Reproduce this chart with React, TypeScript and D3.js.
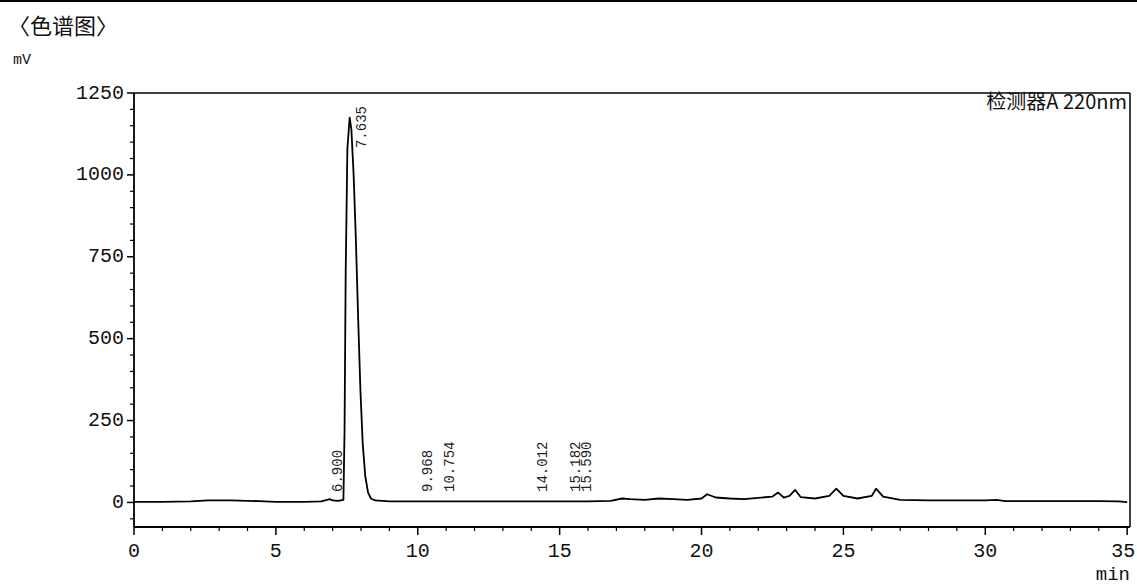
import React from "react";
import * as d3 from "d3";

// chromatogram trace (min, mV)
const chromTime = [0, 1, 2, 2.6, 3.4, 4.4, 5, 6, 6.6, 6.8, 6.9, 7.0, 7.2, 7.38, 7.42, 7.46, 7.52, 7.6, 7.66, 7.74, 7.82, 7.9, 7.98, 8.06, 8.15, 8.25, 8.35, 8.5, 9, 10, 11, 12, 13, 14, 15, 16, 16.8, 17.2, 17.5, 18, 18.5, 19, 19.5, 20, 20.2, 20.5, 21, 21.5, 22, 22.5, 22.7, 22.9, 23.1, 23.3, 23.5, 24, 24.5, 24.75, 25, 25.5, 26, 26.15, 26.4, 27, 28, 29, 30, 30.4, 30.7, 32, 34, 34.7, 35];
const chromMV = [2, 2, 3, 6, 6, 4, 2, 2, 3, 8, 10, 6, 5, 8, 220, 700, 1080, 1175, 1140, 1000, 800, 560, 340, 180, 80, 30, 12, 6, 3, 3, 3, 3, 3, 3, 3, 3, 5, 12, 10, 8, 12, 10, 8, 12, 25, 15, 12, 10, 14, 18, 30, 15, 20, 38, 16, 12, 20, 42, 20, 12, 20, 42, 18, 8, 6, 6, 6, 8, 4, 4, 4, 3, 1];

// peak retention-time labels
const peakTimes = [6.9, 7.635, 9.968, 10.754, 14.012, 15.182, 15.59];
const peakLabels = ["6.900", "7.635", "9.968", "10.754", "14.012", "15.182", "15.590"];
const peakLabelLevel = [32, 1082, 32, 32, 32, 32, 32];

const yTicks = [0, 250, 500, 750, 1000, 1250];
const xTicks = [0, 5, 10, 15, 20, 25, 30, 35];

const W = 1137;
const H = 586;

export default function App() {
  const x = d3.scaleLinear().domain([0, 35.1]).range([134, 1130]);
  const y = d3.scaleLinear().domain([-75, 1250]).range([527, 93]);
  const line = d3
    .line<number>()
    .x((_, i) => x(chromTime[i]))
    .y((d) => y(d));
  const yMinor = d3.range(-50, 1251, 50).filter((v) => v % 250 !== 0);
  const xMinor = d3.range(0, 36, 1).filter((v) => v % 5 !== 0);
  const mono = "'Liberation Mono', 'DejaVu Sans Mono', monospace";
  const cjk = "'Noto Sans CJK SC', sans-serif";
  const x0 = x(0);
  const x1 = x(35.1);
  const yTop = y(1250);
  const yBot = y(-75);
  return (
    <svg
      width={W}
      height={H}
      style={{ position: "absolute", left: 0, top: 0, background: "#fff" }}
    >
      <line x1={0} x2={W} y1={1} y2={1} stroke="#000" strokeWidth={2} />
      <text x={8} y={34} fontFamily={cjk} fontSize={22} fill="#111">
        〈色谱图〉
      </text>
      <text x={13} y={64} fontFamily={mono} fontSize={15} fill="#111">
        mV
      </text>
      {/* frame */}
      <line x1={x0} x2={x1} y1={yTop} y2={yTop} stroke="#000" strokeWidth={1.5} />
      <line x1={x1} x2={x1} y1={yTop} y2={yBot} stroke="#000" strokeWidth={1.5} />
      <line x1={x0} x2={x1} y1={yBot} y2={yBot} stroke="#000" strokeWidth={1.8} />
      <line x1={x0} x2={x0} y1={yTop} y2={yBot} stroke="#000" strokeWidth={1.8} />
      {/* y ticks */}
      {yTicks.map((v) => (
        <g key={"y" + v}>
          <line x1={x0 - 7} x2={x0} y1={y(v)} y2={y(v)} stroke="#000" strokeWidth={1.5} />
          <text
            x={x0 - 10}
            y={y(v)}
            textAnchor="end"
            dominantBaseline="central"
            fontFamily={mono}
            fontSize={20}
            fill="#111"
          >
            {v}
          </text>
        </g>
      ))}
      {yMinor.map((v) => (
        <line key={"ym" + v} x1={x0 - 4} x2={x0} y1={y(v)} y2={y(v)} stroke="#000" strokeWidth={1.2} />
      ))}
      {/* x ticks */}
      {xTicks.map((v, i) => {
        const last = i === xTicks.length - 1;
        return (
          <g key={"x" + v}>
            <line x1={x(v)} x2={x(v)} y1={yBot} y2={yBot + 8} stroke="#000" strokeWidth={1.5} />
            <text
              x={last ? x(v) + 8 : x(v)}
              y={yBot + 30}
              textAnchor={last ? "end" : "middle"}
              fontFamily={mono}
              fontSize={20}
              fill="#111"
            >
              {v}
            </text>
          </g>
        );
      })}
      {xMinor.map((v) => (
        <line key={"xm" + v} x1={x(v)} x2={x(v)} y1={yBot} y2={yBot + 4} stroke="#000" strokeWidth={1.2} />
      ))}
      <text x={1130} y={580} textAnchor="end" fontFamily={mono} fontSize={19} fill="#111">
        min
      </text>
      {/* trace */}
      <path d={line(chromMV) || ""} fill="none" stroke="#000" strokeWidth={1.8} strokeLinejoin="round" />
      {/* peak labels */}
      {peakTimes.map((t, i) => {
        const lx = x(t) + (i === 0 ? 8 : 11);
        const ly = y(peakLabelLevel[i]);
        return (
          <text
            key={"p" + i}
            transform={`translate(${lx},${ly}) rotate(-90)`}
            dominantBaseline="central"
            fontFamily={mono}
            fontSize={14}
            fill="#222"
          >
            {peakLabels[i]}
          </text>
        );
      })}
      {/* detector label */}
      <text
        x={1127}
        y={109}
        textAnchor="end"
        fontFamily={cjk}
        fontSize={20}
        fill="#111"
      >
        检测器A 220nm
      </text>
    </svg>
  );
}
